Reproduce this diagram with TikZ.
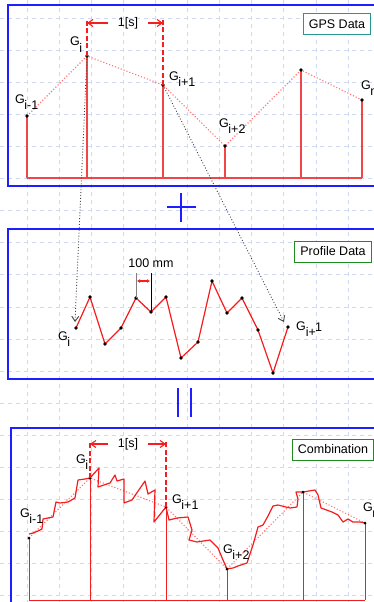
\documentclass[tikz,border=0pt]{standalone}
\usepackage{fontspec}
\setmainfont{Liberation Sans}
\usetikzlibrary{arrows.meta}

\definecolor{gridblue}{RGB}{205,217,245}
\definecolor{panelblue}{RGB}{30,30,255}
\definecolor{boxteal}{RGB}{40,150,140}
\definecolor{boxgreen}{RGB}{30,140,30}
\definecolor{curvered}{RGB}{245,30,30}
\definecolor{stemred}{RGB}{240,70,70}

\newcommand{\gsub}[1]{G\kern-0.5pt\raisebox{-6pt}{#1}}

\begin{document}
\begin{tikzpicture}[x=1pt,y=-1pt,>={Straight Barb[length=5pt,width=7pt]},
  every node/.style={font=\fontsize{12.5}{14}\selectfont,inner sep=0pt},
  frame/.style={draw=panelblue,line width=1.8pt},
  tag/.style={draw,fill=white,line width=1pt,minimum height=21pt,inner xsep=5.5pt},
  pt/.style={circle,fill=black,inner sep=0pt,minimum size=3.8pt},
  stem/.style={stemred,line width=1.4pt},
  thinstem/.style={curvered,line width=1pt},
  trend/.style={red!55,dotted,line width=1.1pt},
  gap/.style={curvered,dash pattern=on 5pt off 2.5pt,line width=1.1pt},
  lbl/.style={anchor=base west},
  dimtext/.style={inner xsep=10pt}]

\clip (0,0) rectangle (374,602);
\fill[white] (0,0) rectangle (374,602);
% grid
\foreach \x in {0,...,10}
  \draw[gridblue,dash pattern=on 4pt off 4pt,line width=0.8pt] ({27+32.1*\x},0) -- ({27+32.1*\x},602);
\foreach \y in {0,...,18}
  \draw[gridblue,dash pattern=on 4pt off 4pt,line width=0.8pt] (0,{18+32.1*\y}) -- (374,{18+32.1*\y});

% panels
\draw[frame] (8,5) rectangle (380,186);
\draw[frame] (8,229) rectangle (380,379);
\draw[frame] (11,428) rectangle (380,612);
\draw[panelblue,line width=2.5pt] (181,193) -- (181,222) (167,207) -- (196,207);
\draw[panelblue,line width=2.5pt] (178,388) -- (178,417) (191,388) -- (191,417);

% GPS data
\coordinate (a0) at (27,116);
\coordinate (a1) at (87,56);
\coordinate (a2) at (163,85);
\coordinate (a3) at (225,146);
\coordinate (a4) at (301,70);
\coordinate (a5) at (362,100);
\coordinate (base1) at (0,178);
\draw[stem] (a0 |- base1) -- (a5 |- base1);
\foreach \p in {a0,a1,a2,a3,a4,a5}
  \draw[stem] (\p) -- (\p |- base1);
\draw[trend] (a0) -- (a1) -- (a2) -- (a3) -- (a4) -- (a5);
\foreach \p in {a0,a1,a2,a3,a4,a5}
  \node[pt] (d\p) at (\p) {};
\coordinate (t1) at (87,19);
\coordinate (t2) at (163,19);
\draw[gap] (a1) -- (t1);
\draw[gap] (a2) -- (t2);
\node[dimtext] (dt1) at (128,23) {1[s]};
\draw[->,curvered,line width=1.1pt] (dt1.west) -- (a1 |- dt1);
\draw[->,curvered,line width=1.1pt] (dt1.east) -- (a2 |- dt1);
\node[lbl] (la0) at (15,103) {\gsub{i-1}};
\node[lbl] (la1) at (70,46) {\gsub{i}};
\node[lbl] (la2) at (169,80) {\gsub{i+1}};
\node[lbl] (la3) at (219,127) {\gsub{i+2}};
\node[lbl] (la5) at (361,89) {\gsub{n}};
\node[tag,draw=boxteal] (gps) at (337,24.5) {GPS Data};

% profile data
\foreach [count=\i] \x/\y in {76/328,90/297,105/344,121/328,136/298,151/312,166/297,
    181/358,198/342,212/281,227/313,242/298,258/330,273/373,288/327}
  \coordinate (p\i) at (\x,\y);
\draw[curvered,line width=1.2pt] (p1) \foreach \i in {2,...,15} { -- (p\i) };
\foreach \i in {1,...,15}
  \node[pt] (dp\i) at (p\i) {};
\coordinate (m1) at (136,273);
\coordinate (m2) at (151,273);
\draw[gray,line width=1pt] (p5) -- (m1);
\draw[black,line width=1pt] (p6) -- (m2);
\draw[{Latex[length=3pt,width=4pt]}-{Latex[length=3pt,width=4pt]},curvered,line width=1.1pt]
  ([yshift=-8pt,xshift=1pt]m1) -- ([yshift=-8pt,xshift=-1pt]m2);
\node (mm) at (151,263) {100 mm};
\node[lbl] (lp1) at (58,340) {\gsub{i}};
\node[lbl] (lp15) at (296,330) {G\raisebox{-6pt}{i+}\kern-1pt\raisebox{-1pt}{1}};
\node[tag,draw=boxgreen] (prof) at (333,251.5) {Profile Data};

% links between the two
\coordinate (e1) at (75,322);
\coordinate (e2) at (284,322);
\draw[->,dotted,black!75,line width=0.9pt] (a1) -- (e1);
\draw[->,dotted,black!75,line width=0.9pt] (a2) -- (e2);

% combination
\coordinate (c0) at (29,538);
\coordinate (c1) at (90,478);
\coordinate (c2) at (166,507);
\coordinate (c3) at (227,569);
\coordinate (c4) at (303,492);
\coordinate (c5) at (365,523);
\coordinate (base3) at (0,600);
\draw[thinstem] (c0 |- base3) -- (c5 |- base3);
\foreach \p in {c0,c1,c2,c3,c4,c5}
  \draw[thinstem] (\p) -- (\p |- base3);
\draw[trend] (c0) -- (c1) -- (c2) -- (c3) -- (c4) -- (c5);
\draw[curvered,line width=1.2pt,line join=round] plot coordinates {
  (29,534) (33,533) (38,531) (42,529) (43,519) (48,518) (53,517) (56,502)
  (60,503) (68,502) (75,498) (78,480) (85,479) (90,478)
  (99,468) (98,487) (110,483) (115,475) (117,481) (124,479) (124,503)
  (132,500) (145,481) (148,494) (155,490) (154,522) (166,507)
  (169,520) (177,518) (188,517) (192,530) (189,540) (197,542) (210,540)
  (218,548) (223,560) (227,569)
  (233,568) (238,566) (247,563) (249,557) (253,545) (258,527) (263,525)
  (268,516) (273,506) (278,505) (290,508) (297,507) (298,499) (296,492) (303,492)
  (315,490) (318,495) (321,508) (332,512) (338,515) (343,522) (348,519)
  (353,522) (360,522) (365,523)};
\foreach \p in {c0,c1,c2,c3,c4,c5}
  \node[pt,minimum size=3pt] (d\p) at (\p) {};
\coordinate (t3) at (90,442);
\coordinate (t4) at (166,442);
\draw[gap] (c1) -- (t3);
\draw[gap] (c2) -- (t4);
\node[dimtext] (dt2) at (128,444) {1[s]};
\draw[->,curvered,line width=1.1pt] (dt2.west) -- (c1 |- dt2);
\draw[->,curvered,line width=1.1pt] (dt2.east) -- (c2 |- dt2);
\node[lbl] (lc0) at (20,517) {\gsub{i-1}};
\node[lbl] (lc1) at (76,463) {\gsub{i}};
\node[lbl] (lc2) at (172,503) {\gsub{i+1}};
\node[lbl] (lc3) at (223,553) {\gsub{i+2}};
\node[lbl] (lc5) at (363,511) {\gsub{n}};
\node[tag,draw=boxgreen] (comb) at (333,449.5) {Combination};
\end{tikzpicture}
\end{document}
